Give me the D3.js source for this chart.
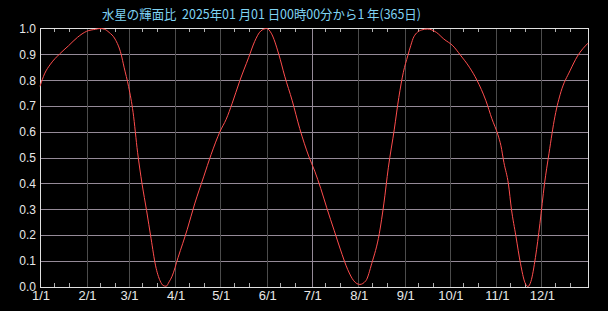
<!DOCTYPE html>
<head>
  <meta charset="utf-8">
  <script src="https://d3js.org/d3.v7.min.js"></script>
  <style>
    body { margin: 0; background-color: black; }
    text { font-family: "Noto Sans CJK JP", "DejaVu Sans", sans-serif; }
    .tick-label { fill: #e8e8e8; font-size: 12px; font-family: "Liberation Sans", "DejaVu Sans", sans-serif; }
    .x-label { font-size: 13px; }
  </style>
</head>
<body>
  <script>
    // day of year (0 = Jan 1 2025) and illuminated fraction of Mercury
    const days = [0, 3, 7, 13, 19, 25, 31, 37, 40, 43, 46, 50, 54, 56, 59, 62, 65, 68, 71, 74, 77, 80, 82, 84, 86, 88,
      92, 98, 103, 109, 114, 120, 124, 128, 133, 139, 143, 147, 151, 154, 159, 163, 168, 173, 179, 183, 187, 191,
      196, 200, 205, 209, 213, 217, 221, 226, 229, 232, 236, 239, 242, 245, 247, 249, 254, 258, 264, 269, 275, 280,
      286, 291, 297, 301, 305, 307, 309, 312, 314, 317, 320, 323, 325, 327, 330, 333, 336, 339, 343, 347, 353, 358, 365];
    const fraction = [0.776, 0.824, 0.862, 0.901, 0.933, 0.966, 0.989, 0.997, 1.0, 0.997, 0.985, 0.959, 0.901, 0.850,
      0.775, 0.675, 0.52, 0.397, 0.294, 0.185, 0.080, 0.022, 0.004, 0.001, 0.018, 0.040,
      0.113, 0.22, 0.320, 0.425, 0.512, 0.602, 0.648, 0.710, 0.796, 0.888, 0.950, 0.99, 1.0, 0.982, 0.901, 0.815,
      0.720, 0.612, 0.505, 0.447, 0.380, 0.305, 0.216, 0.145, 0.065, 0.022, 0.008, 0.022, 0.090, 0.205, 0.320,
      0.460, 0.610, 0.733, 0.830, 0.895, 0.935, 0.968, 0.994, 0.998, 0.985, 0.959, 0.933, 0.897, 0.850, 0.800,
      0.720, 0.650, 0.588, 0.546, 0.48, 0.397, 0.30, 0.195, 0.09, 0.015, 0.0, 0.02, 0.113, 0.245, 0.397, 0.515,
      0.660, 0.755, 0.836, 0.893, 0.943];
    const monthLabels = ["1/1", "2/1", "3/1", "4/1", "5/1", "6/1", "7/1", "8/1", "9/1", "10/1", "11/1", "12/1"];
    const yTicks = [0, 0.1, 0.2, 0.3, 0.4, 0.5, 0.6, 0.7, 0.8, 0.9, 1.0];
    const title = "水星の輝面比  2025年01 月01 日00時00分から1 年(365日)";

    const width = 608, height = 311;
    const plot = {left: 40, right: 588, top: 28, bottom: 287};

    const startDate = new Date(Date.UTC(2025, 0, 1));
    const endDate = new Date(Date.UTC(2026, 0, 1));
    const dayMs = 86400000;
    const toDate = d => new Date(startDate.getTime() + d * dayMs);

    const x = d3.scaleUtc().domain([startDate, endDate]).range([plot.left, plot.right]);
    const y = d3.scaleLinear().domain([0, 1]).range([plot.bottom - 0.5, plot.top + 0.5]);

    const svg = d3.select("body").append("svg")
        .attr("width", width)
        .attr("height", height);

    const monthStarts = monthLabels.map((m, i) => new Date(Date.UTC(2025, i, 1)));
    const minorDates = [];
    monthStarts.forEach(m => {
      minorDates.push(new Date(Date.UTC(2025, m.getUTCMonth(), 10)));
      minorDates.push(new Date(Date.UTC(2025, m.getUTCMonth(), 20)));
    });

    // horizontal grid
    svg.append("g").selectAll("line")
        .data(yTicks.slice(1, -1))
        .enter().append("line")
        .attr("x1", plot.left).attr("x2", plot.right)
        .attr("y1", d => Math.round(y(d)) + 0.5).attr("y2", d => Math.round(y(d)) + 0.5)
        .attr("stroke", "#958a98");

    // vertical month grid
    svg.append("g").selectAll("line")
        .data(monthStarts.slice(1))
        .enter().append("line")
        .attr("x1", d => Math.round(x(d)) + 0.5).attr("x2", d => Math.round(x(d)) + 0.5)
        .attr("y1", plot.top).attr("y2", plot.bottom)
        .attr("stroke", d => d.getUTCMonth() === 6 ? "#958a98" : "#4c4c4c");

    // minor ticks, top and bottom
    const minor = svg.append("g");
    minor.selectAll(".tb").data(minorDates).enter().append("line")
        .attr("x1", d => Math.round(x(d)) + 0.5).attr("x2", d => Math.round(x(d)) + 0.5)
        .attr("y1", plot.top).attr("y2", plot.top + 4)
        .attr("stroke", "#b0b0b0");
    minor.selectAll(".bt").data(minorDates).enter().append("line")
        .attr("x1", d => Math.round(x(d)) + 0.5).attr("x2", d => Math.round(x(d)) + 0.5)
        .attr("y1", plot.bottom - 4).attr("y2", plot.bottom)
        .attr("stroke", "#b0b0b0");

    // frame
    svg.append("rect")
        .attr("x", plot.left + 0.5).attr("y", plot.top + 0.5)
        .attr("width", plot.right - plot.left).attr("height", plot.bottom - plot.top)
        .attr("fill", "none").attr("stroke", "#e0e0e0");

    // curve
    const line = d3.line()
        .x((d, i) => x(toDate(days[i])))
        .y(d => y(d))
        .curve(d3.curveMonotoneX);
    svg.append("path")
        .datum(fraction)
        .attr("d", line)
        .attr("fill", "none")
        .attr("stroke", "#ff4d4d")
        .attr("stroke-width", 1);

    // y labels
    svg.append("g").selectAll("text")
        .data(yTicks)
        .enter().append("text")
        .attr("class", "tick-label")
        .attr("x", 36)
        .attr("y", d => y(d) + 4.5)
        .attr("text-anchor", "end")
        .text(d => d3.format(".1f")(d));

    // x labels
    svg.append("g").selectAll("text")
        .data(monthStarts)
        .enter().append("text")
        .attr("class", "tick-label x-label")
        .attr("x", d => x(d) + 1)
        .attr("y", 300)
        .attr("text-anchor", "middle")
        .text((d, i) => monthLabels[i]);

    // title
    svg.append("text")
        .attr("x", 102)
        .attr("y", 19)
        .attr("fill", "#7fd3f3")
        .style("font-size", "13px")
        .attr("textLength", 319)
        .attr("lengthAdjust", "spacingAndGlyphs")
        .style("white-space", "pre")
        .text(title);
  </script>
</body>
